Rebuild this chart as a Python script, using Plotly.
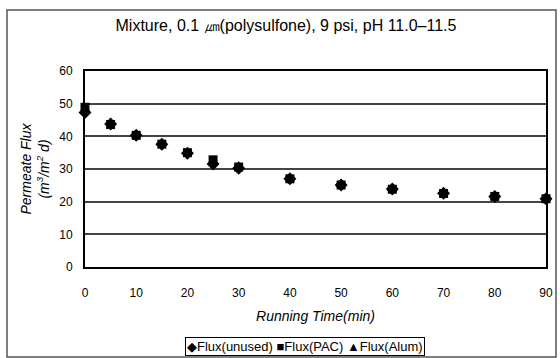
import plotly.graph_objects as go

time_min = [0, 5, 10, 15, 20, 25, 30, 40, 50, 60, 70, 80, 90]
flux_unused = [47.3, 43.8, 40.3, 37.6, 34.8, 31.5, 30.2, 27.0, 25.1, 23.9, 22.6, 21.6, 20.9]
flux_pac = [48.9, 43.6, 40.3, 37.6, 35.0, 32.8, 30.6, 27.0, 25.1, 23.8, 22.5, 21.6, 20.9]
flux_alum = [48.2, 44.2, 40.4, 37.8, 35.3, 32.3, 31.0, 27.0, 25.2, 24.0, 22.8, 21.8, 21.0]

series = [
    ("Flux(unused)", flux_unused, "diamond", 10, "◆"),
    ("Flux(PAC)", flux_pac, "square", 9, "■"),
    ("Flux(Alum)", flux_alum, "triangle-up", 9, "▲"),
]

fig = go.Figure()
for name, vals, sym, sz, glyph in series:
    fig.add_trace(go.Scatter(
        x=time_min, y=vals, mode="markers", name=name,
        marker=dict(symbol=sym, size=sz, color="black"),
        cliponaxis=False, showlegend=False,
    ))

font_family = "Liberation Sans, Arial, sans-serif"

fig.update_layout(
    width=560, height=358,
    margin=dict(l=85, r=14, t=71, b=91),
    paper_bgcolor="white", plot_bgcolor="white",
    font=dict(family=font_family, size=12, color="black"),
    title=dict(text="Mixture, 0.1 ㎛(polysulfone), 9 psi, pH 11.0–11.5",
               x=286 / 560, xanchor="center", y=1 - 25 / 358, yanchor="middle",
               font=dict(size=16, family=font_family)),
    xaxis=dict(range=[0, 90], tickvals=[0, 10, 20, 30, 40, 50, 60, 70, 80, 90],
               showgrid=False, zeroline=False, automargin=False,
               showline=True, linecolor="black", linewidth=2, mirror=True,
               ticks="", ticklabelstandoff=14,
               title=dict(text="<i>Running Time(min)</i>", standoff=12,
                          font=dict(size=14))),
    yaxis=dict(range=[0, 60], tickvals=[0, 10, 20, 30, 40, 50, 60],
               showgrid=True, gridcolor="#444444", gridwidth=1.5, zeroline=False,
               automargin=False,
               showline=True, linecolor="black", linewidth=2, mirror=True,
               ticks="", ticklabelstandoff=8,
               title=dict(text="<i>Permeate Flux</i><br><i>(m<sup>3</sup>/m<sup>2</sup> d)</i>",
                          standoff=6, font=dict(size=14))),
)

legend_text = " ".join(f"{g}{n}" for n, _, _, _, g in series)
fig.add_annotation(text=legend_text, xref="paper", yref="paper",
                   x=(305 - 85) / 461, y=(267 - 346) / 196,
                   xanchor="center", yanchor="middle", showarrow=False,
                   font=dict(size=13, family=font_family, color="black"),
                   bordercolor="black", borderwidth=1, borderpad=1,
                   bgcolor="white")

# outer chart frame
fig.add_shape(type="rect", xref="paper", yref="paper",
              x0=(7 - 85) / 461, x1=(556 - 85) / 461,
              y0=(267 - 357) / 196, y1=(267 - 10) / 196,
              line=dict(color="#555555", width=1.5), fillcolor="rgba(0,0,0,0)")

fig.write_html("out.html", config={"displayModeBar": False},
               post_script="document.body.style.margin='0';")
